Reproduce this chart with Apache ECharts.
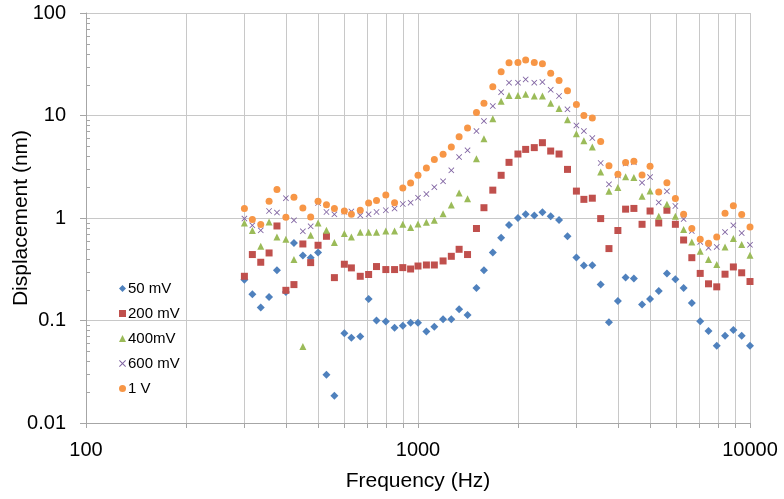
<!DOCTYPE html>
<html>
<head>
<meta charset="utf-8">
<script src="https://cdn.jsdelivr.net/npm/echarts@6.0.0/dist/echarts.min.js"></script>
<style>
  html, body { margin: 0; padding: 0; background: #fff; }
  #chart { width: 784px; height: 499px; }
</style>
</head>
<body>
<div id="chart"></div>
<script>
// frequencies (Hz)
var freqs = [300, 317, 336, 356, 376, 400, 423, 450, 475, 500,
    530, 560, 600, 630, 670, 710, 750, 800, 850, 900,
    950, 1000, 1060, 1120, 1190, 1260, 1330, 1410, 1500, 1580,
    1680, 1780, 1880, 2000, 2110, 2240, 2370, 2510, 2660, 2820,
    3000, 3160, 3350, 3550, 3760, 4000, 4220, 4470, 4730, 5000,
    5310, 5620, 5960, 6310, 6680, 7080, 7500, 7940, 8410, 8910,
    9440, 10000];

// displacement (nm) per drive level
var mv50 = [0.25, 0.18, 0.134, 0.17, 0.31, 0.19, 0.57, 0.43, 0.41, 0.46,
    0.0295, 0.0184, 0.075, 0.068, 0.07, 0.162, 0.1, 0.098, 0.085, 0.089,
    0.095, 0.095, 0.078, 0.087, 0.103, 0.103, 0.129, 0.113, 0.208, 0.31,
    0.46, 0.64, 0.855, 1.0, 1.09, 1.055, 1.14, 1.04, 0.956, 0.663,
    0.411, 0.344, 0.346, 0.224, 0.096, 0.155, 0.262, 0.257, 0.143, 0.162,
    0.194, 0.287, 0.253, 0.208, 0.148, 0.0985, 0.079, 0.0566, 0.071, 0.081,
    0.071, 0.0566];
var mv200 = [0.27, 0.44, 0.37, 0.456, 0.836, 0.197, 0.224, 0.558, 0.367, 0.542,
    0.663, 0.262, 0.354, 0.326, 0.27, 0.281, 0.336, 0.314, 0.314, 0.328,
    0.318, 0.34, 0.348, 0.348, 0.381, 0.423, 0.495, 0.44, 0.79, 1.26,
    1.87, 2.61, 3.49, 4.21, 4.67, 4.86, 5.43, 4.5, 4.21, 2.98,
    1.83, 1.52, 1.56, 0.987, 0.503, 0.755, 1.22, 1.24, 0.868, 1.17,
    0.894, 1.19, 0.868, 0.61, 0.41, 0.288, 0.228, 0.213, 0.283, 0.333,
    0.292, 0.24];
var mv400 = [0.894, 0.754, 0.53, 0.914, 0.653, 0.62, 0.393, 0.0558, 0.678, 0.894,
    0.759, 0.576, 0.705, 0.653, 0.725, 0.725, 0.725, 0.747, 0.747, 0.868,
    0.806, 0.874, 0.908, 0.95, 1.1, 1.34, 1.75, 1.54, 3.79, 5.94,
    9.31, 13.8, 15.7, 15.7, 16.1, 15.5, 15.5, 13.2, 11.7, 9.1,
    6.65, 5.66, 4.92, 2.81, 1.82, 1.98, 2.52, 2.48, 1.63, 1.83,
    1.04, 1.36, 1.04, 0.771, 0.584, 0.474, 0.393, 0.351, 0.522, 0.63,
    0.55, 0.433];
var mv600 = [0.987, 0.849, 0.759, 1.17, 1.13, 1.56, 0.95, 0.742, 0.83, 1.4,
    1.144, 1.087, 1.15, 1.16, 1.06, 1.087, 1.144, 1.19, 1.235, 1.37,
    1.41, 1.58, 1.71, 2.0, 2.28, 2.92, 3.93, 4.57, 7.05, 8.82,
    12.35, 16.9, 20.9, 20.9, 22.5, 20.9, 21.2, 17.8, 15.5, 11.5,
    8.01, 7.05, 6.02, 3.44, 2.13, 2.6, 3.4, 3.5, 2.21, 2.51,
    1.42, 1.82, 1.31, 0.976, 0.745, 0.584, 0.512, 0.522, 0.729, 0.849,
    0.713, 0.548];
var v1 = [1.235, 0.965, 0.862, 1.46, 1.9, 1.016, 1.59, 1.25, 1.023, 1.455,
    1.35, 1.235, 1.17, 1.087, 1.19, 1.4, 1.48, 1.68, 1.41, 1.96,
    2.19, 2.61, 3.07, 3.73, 4.18, 4.92, 6.22, 7.54, 10.7, 13.2,
    19.1, 26.7, 32.7, 32.9, 34.7, 32.9, 32.0, 25.9, 22.0, 17.45,
    12.8, 9.98, 9.43, 5.59, 3.23, 2.67, 3.47, 3.57, 2.62, 3.19,
    1.79, 2.21, 1.55, 1.087, 0.788, 0.62, 0.567, 0.653, 1.11, 1.32,
    1.08, 0.817];

var seriesNames = ['50 mV', '200 mV', '400mV', '600 mV', '1 V'];

// minor gridline frequencies and minor tick values on the y axis
var minorFreqs = [200, 300, 400, 500, 600, 700, 800, 900,
    2000, 3000, 4000, 5000, 6000, 7000, 8000, 9000];
var minorY = [0.02, 0.03, 0.04, 0.05, 0.06, 0.07, 0.08, 0.09,
    0.2, 0.3, 0.4, 0.5, 0.6, 0.7, 0.8, 0.9,
    2, 3, 4, 5, 6, 7, 8, 9,
    20, 30, 40, 50, 60, 70, 80, 90];

var crossPath = 'path://M0,1L1,0L5,4L9,0L10,1L6,5L10,9L9,10L5,6L1,10L0,9L4,5Z';

var font = '"Liberation Sans", Arial, Helvetica, sans-serif';
var gridColor = '#c8c8c8';
var axisColor = '#a6a6a6';

function pairs(vals) {
    return freqs.map(function(f, i) {
        return [f, vals[i]];
    });
}

function makeSeries(name, vals, symbol, size, color) {
    return {
        name: name,
        type: 'scatter',
        symbol: symbol,
        symbolSize: size,
        z: 3,
        itemStyle: { color: color, opacity: 1 },
        emphasis: { disabled: true },
        data: pairs(vals)
    };
}

function crisp(v) {
    return Math.round(v) + 0.5;
}

// vertical minor gridlines plus their small tick under the x axis
function renderMinorGrid(params, api) {
    var f = api.value(0);
    var top = api.coord([f, 100]);
    var bot = api.coord([f, 0.01]);
    var x = crisp(top[0]);
    return {
        type: 'group',
        children: [{
            type: 'line',
            shape: { x1: x, y1: top[1], x2: x, y2: bot[1] },
            style: { stroke: gridColor, lineWidth: 1 }
        }, {
            type: 'line',
            shape: { x1: x, y1: bot[1], x2: x, y2: bot[1] + 5 },
            style: { stroke: axisColor, lineWidth: 1 }
        }]
    };
}

// little inside ticks on the y axis
function renderMinorY(params, api) {
    var p = api.coord([100, api.value(1)]);
    var y = crisp(p[1]);
    return {
        type: 'line',
        shape: { x1: p[0], y1: y, x2: p[0] + 4, y2: y },
        style: { stroke: axisColor, lineWidth: 1 }
    };
}

function fmt(v) {
    return String(Number(v.toPrecision(3)));
}

var myChart = echarts.init(document.getElementById('chart'), null, { renderer: 'canvas' });
var option = {
    animation: false,
    backgroundColor: '#fff',
    textStyle: { fontFamily: font },
    grid: { left: 86, right: 34, top: 13, bottom: 76, containLabel: false, outerBoundsMode: 'none' },
    legend: {
        orient: 'vertical',
        left: 114,
        top: 276,
        itemWidth: 7,
        itemHeight: 7,
        itemGap: 10,
        textStyle: { fontSize: 15, color: '#000', fontFamily: font, padding: [0, 0, 0, -3] },
        data: seriesNames
    },
    xAxis: {
        type: 'log',
        logBase: 10,
        min: 100,
        max: 10000,
        name: 'Frequency (Hz)',
        nameLocation: 'middle',
        nameGap: 48,
        nameMoveOverlap: false,
        nameTextStyle: { fontSize: 21, color: '#000', fontFamily: font },
        axisLine: { lineStyle: { color: axisColor } },
        axisTick: { show: true, length: 5, lineStyle: { color: axisColor } },
        axisLabel: { fontSize: 20, color: '#000', margin: 17, fontFamily: font, formatter: fmt },
        splitLine: { show: true, lineStyle: { color: gridColor } }
    },
    yAxis: {
        type: 'log',
        logBase: 10,
        min: 0.01,
        max: 100,
        name: 'Displacement (nm)',
        nameLocation: 'middle',
        nameGap: 54,
        nameMoveOverlap: false,
        nameTextStyle: { fontSize: 21, color: '#000', fontFamily: font },
        axisLine: { show: true, lineStyle: { color: axisColor } },
        axisTick: { show: true, length: 6, lineStyle: { color: axisColor } },
        axisLabel: { fontSize: 20, color: '#000', margin: 20, fontFamily: font, formatter: fmt },
        splitLine: { show: true, lineStyle: { color: gridColor } }
    },
    series: [
        {
            type: 'custom',
            name: 'minorGrid',
            silent: true,
            clip: false,
            z: 1,
            renderItem: renderMinorGrid,
            encode: { x: 0, y: 1 },
            data: minorFreqs.map(function(f) { return [f, 1]; })
        },
        {
            type: 'custom',
            name: 'minorY',
            silent: true,
            clip: false,
            z: 1,
            renderItem: renderMinorY,
            encode: { x: 0, y: 1 },
            data: minorY.map(function(v) { return [100, v]; })
        },
        makeSeries(seriesNames[0], mv50, 'diamond', 8, '#4F81BD'),
        makeSeries(seriesNames[1], mv200, 'rect', 7, '#C0504D'),
        makeSeries(seriesNames[2], mv400, 'triangle', 7, '#9BBB59'),
        makeSeries(seriesNames[3], mv600, crossPath, 6, '#8064A2'),
        makeSeries(seriesNames[4], v1, 'circle', 7, '#F79646')
    ]
};
myChart.setOption(option);
</script>
</body>
</html>
